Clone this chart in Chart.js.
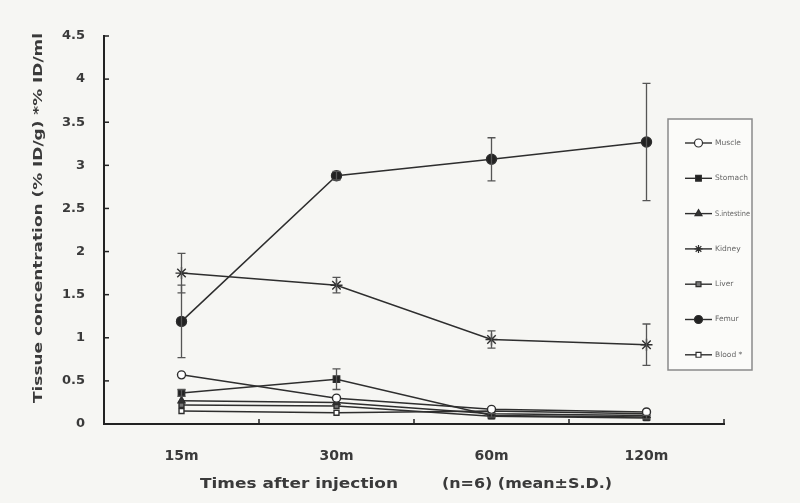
<!DOCTYPE html>
<html><head><meta charset="utf-8">
<script src="https://cdn.jsdelivr.net/npm/chart.js@4"></script>
<style>html,body{margin:0;padding:0;background:#f6f6f3;}canvas{display:block;}</style>
</head><body>
<canvas id="c" width="800" height="503"></canvas>
<script>
const categories = ["15m", "30m", "60m", "120m"];
const seriesNames = ["Muscle", "Stomach", "S.intestine", "Kidney", "Liver", "Femur", "Blood *"];
const muscle      = [0.57, 0.30, 0.17, 0.14];
const stomach     = [0.36, 0.52, 0.10, 0.08];
const sIntestine  = [0.27, 0.25, 0.12, 0.10];
const kidney      = [1.75, 1.61, 0.98, 0.92];
const liver       = [0.22, 0.21, 0.09, 0.07];
const femur       = [1.19, 2.88, 3.07, 3.27];
const blood       = [0.15, 0.13, 0.15, 0.12];
const kidneySD    = [0.23, 0.09, 0.10, 0.24];
const femurSD     = [0.42, 0.05, 0.25, 0.68];
const stomachSD   = [0.04, 0.12, 0.02, 0.02];
const yTicks      = [0, 0.5, 1, 1.5, 2, 2.5, 3, 3.5, 4, 4.5];
const yTitle = "Tissue concentration (% ID/g) *% ID/ml";
const xTitle1 = "Times after injection";
const xTitle2 = "(n=6)\u00a0(mean\u00b1S.D.)";

const ink = "#2e2e2e";
const FONT = '"DejaVu Sans", "Liberation Sans", Arial, sans-serif';
function ds(label, data, style, fill, radius, sd) {
  return { label, data, sd: sd || null, borderColor: ink, borderWidth: 1.5,
    pointStyle: style, pointBackgroundColor: fill, pointBorderColor: ink,
    pointBorderWidth: 1.4, pointRadius: radius, tension: 0 };
}
const datasets = [
  ds(seriesNames[0], muscle, 'circle', '#ffffff', 4),
  ds(seriesNames[1], stomach, 'rect', '#222', 4.5, stomachSD),
  ds(seriesNames[2], sIntestine, 'triangle', '#333', 4),
  ds(seriesNames[3], kidney, 'star', '#333', 6, kidneySD),
  ds(seriesNames[4], liver, 'rect', '#777', 3.5),
  ds(seriesNames[5], femur, 'circle', '#222', 5, femurSD),
  ds(seriesNames[6], blood, 'rect', '#ffffff', 3.5)
];

function fitText(ctx, text, x, y, width) {
  const w = ctx.measureText(text).width;
  ctx.save(); ctx.translate(x, y); ctx.scale(width / w, 1);
  ctx.textAlign = 'left'; ctx.fillText(text, 0, 0); ctx.restore();
}

const custom = {
  id: 'custom',
  afterDatasetsDraw(chart) {
    const ctx = chart.ctx, x = chart.scales.x, y = chart.scales.y;
    ctx.save();
    // error bars
    ctx.strokeStyle = '#555'; ctx.lineWidth = 1.3;
    chart.data.datasets.forEach(d => {
      if (!d.sd) return;
      d.data.forEach((v, i) => {
        const px = x.getPixelForValue(i);
        const t = y.getPixelForValue(v + d.sd[i]), b = y.getPixelForValue(v - d.sd[i]);
        ctx.beginPath();
        ctx.moveTo(px, t); ctx.lineTo(px, b);
        ctx.moveTo(px - 4, t); ctx.lineTo(px + 4, t);
        ctx.moveTo(px - 4, b); ctx.lineTo(px + 4, b);
        ctx.stroke();
      });
    });
    // inward ticks
    ctx.strokeStyle = '#222'; ctx.lineWidth = 1.5;
    yTicks.forEach(v => {
      const py = y.getPixelForValue(v);
      ctx.beginPath(); ctx.moveTo(chart.chartArea.left, py); ctx.lineTo(chart.chartArea.left + 5, py); ctx.stroke();
    });
    for (let i = 1; i <= categories.length; i++) {
      const px = x.left + (x.right - x.left) * i / categories.length;
      ctx.beginPath(); ctx.moveTo(px, chart.chartArea.bottom); ctx.lineTo(px, chart.chartArea.bottom - 5); ctx.stroke();
    }
    // legend
    const lx = 668, ly = 119, lw = 84, lh = 251;
    ctx.fillStyle = '#fbfbf9'; ctx.fillRect(lx, ly, lw, lh);
    ctx.strokeStyle = '#8a8a8a'; ctx.lineWidth = 1.5; ctx.strokeRect(lx, ly, lw, lh);
    ctx.font = '7.5px ' + FONT;
    ctx.textBaseline = 'middle';
    chart.data.datasets.forEach((d, i) => {
      const yy = 143 + i * 35.3;
      ctx.strokeStyle = ink; ctx.lineWidth = 1.4;
      ctx.beginPath(); ctx.moveTo(685, yy); ctx.lineTo(712, yy); ctx.stroke();
      ctx.fillStyle = d.pointBackgroundColor; ctx.strokeStyle = ink; ctx.lineWidth = 1.2;
      Chart.helpers.drawPoint(ctx, { pointStyle: d.pointStyle, radius: Math.min(d.pointRadius, 4), borderWidth: 1.2, rotation: 0 }, 698.5, yy);
      ctx.fillStyle = '#666';
      fitText(ctx, d.label, 715, yy, Math.min(ctx.measureText(d.label).width, 35));
    });
    // titles
    ctx.fillStyle = '#3a3a3a';
    ctx.font = 'bold 13px ' + FONT;
    ctx.textBaseline = 'middle';
    ctx.save(); ctx.translate(39, 403); ctx.rotate(-Math.PI / 2); fitText(ctx, yTitle, 0, 0, 370); ctx.restore();
    ctx.font = 'bold 14px ' + FONT;
    fitText(ctx, xTitle1, 200, 484, 198);
    fitText(ctx, xTitle2, 442, 484, 170);
    ctx.restore();
  }
};

new Chart(document.getElementById('c'), {
  type: 'line',
  data: { labels: categories, datasets },
  options: {
    responsive: false, animation: false,
    layout: { padding: { top: 36, right: 76, bottom: 0, left: 0 } },
    plugins: { legend: { display: false }, tooltip: { enabled: false } },
    scales: {
      x: {
        offset: true,
        afterFit: s => { s.height = 79; },
        grid: { display: false, offset: true },
        border: { display: true, color: '#222', width: 2 },
        ticks: { color: '#3a3a3a', padding: 16, font: { size: 14, weight: 'bold', family: FONT } }
      },
      y: {
        min: 0, max: 4.5,
        afterFit: s => { s.width = 104; },
        afterBuildTicks: s => { s.ticks = yTicks.map(v => ({ value: v })); },
        grid: { display: false },
        border: { display: true, color: '#222', width: 2 },
        ticks: { color: '#3a3a3a', padding: 11, font: { size: 13, weight: 'bold', family: FONT },
                 callback: v => String(v) }
      }
    }
  },
  plugins: [custom]
});
</script>
</body></html>
